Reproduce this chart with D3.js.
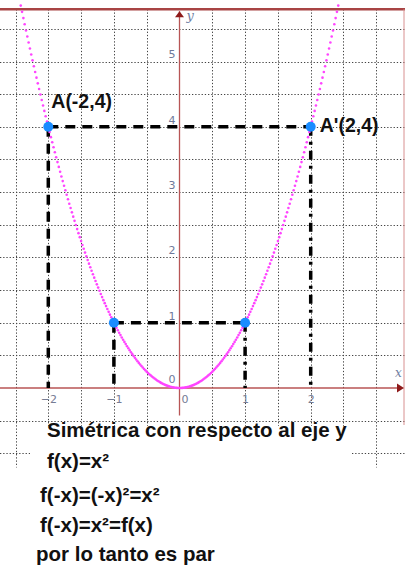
<!DOCTYPE html>
<html>
<head>
<meta charset="utf-8">
<script src="https://cdn.jsdelivr.net/npm/d3@7"></script>
<style>
  html, body { margin: 0; padding: 0; background: #fff; }
  svg { display: block; }
</style>
</head>
<body>
<script>
// f(x) = x^2 and its symmetric points about the y axis
const xTicks = [-2, -1, 0, 1, 2];
const yTicks = [0, 1, 2, 3, 4, 5];
const curveDomain = [-2.42, 2.42];
const curveStep = 0.02;
const points = [
  { name: "A(-2,4)", x: -2, y: 4 },
  { name: "A'(2,4)", x: 2, y: 4 },
  { name: "", x: -1, y: 1 },
  { name: "", x: 1, y: 1 }
];
// guide segments: [x1, y1, x2, y2, style]
const guides = [
  [-2, 4, 2, 4, "dash"],
  [-2, 4, -2, 0, "dash"],
  [2, 4, 2, 0, "dashdot"],
  [-1, 1, 1, 1, "dash"],
  [-1, 1, -1, 0, "dash"],
  [1, 1, 1, 0, "dashdot"]
];
const notes = [
  "Simétrica con respecto al eje y",
  "f(x)=x²",
  "f(-x)=(-x)²=x²",
  "f(-x)=x²=f(x)",
  "por lo tanto es par"
];

const W = 405, H = 571;
const f = v => v * v;

const x = d3.scaleLinear().domain([-2, 2]).range([48.3, 310.7]);
const y = d3.scaleLinear().domain([0, 4]).range([388, 126.8]);

const svg = d3.select("body").append("svg")
  .attr("width", W).attr("height", H);
svg.append("rect").attr("width", W).attr("height", H).attr("fill", "#fff");

const yTop = 5.8, yBottom = -1.22;
const gridXs = d3.range(-5, 8).map(k => k / 2).filter(v => v !== 0);
const gridYs = d3.range(-2, 12).map(k => k / 2).filter(v => v !== 0);

// dotted grid
const grid = svg.append("g").attr("stroke", "#444").attr("stroke-width", 1)
  .attr("stroke-dasharray", "1.3,1.9");
grid.selectAll("line.v").data(gridXs).join("line").attr("class", "v")
  .attr("x1", d => Math.round(x(d)) + 0.5).attr("x2", d => Math.round(x(d)) + 0.5)
  .attr("y1", y(yTop)).attr("y2", y(yBottom));
grid.selectAll("line.h").data(gridYs).join("line").attr("class", "h")
  .attr("y1", d => Math.round(y(d)) + 0.5).attr("y2", d => Math.round(y(d)) + 0.5)
  .attr("x1", 0).attr("x2", W);

// white panel behind the notes
svg.append("rect").attr("x", 30).attr("y", 426).attr("width", 322).attr("height", H - 426)
  .attr("fill", "#fff");
svg.append("rect").attr("x", 0).attr("y", y(yBottom)).attr("width", W).attr("height", H)
  .attr("fill", "#fff");

// frame lines
svg.append("line").attr("x1", 0).attr("x2", W).attr("y1", y(yTop)).attr("y2", y(yTop))
  .attr("stroke", "#a84444").attr("stroke-width", 2.4);
svg.append("line").attr("x1", 404).attr("x2", 404).attr("y1", y(yTop)).attr("y2", 425)
  .attr("stroke", "#d89090").attr("stroke-width", 1);

// axes lines
const axisColor = "#b85555";
svg.append("line").attr("x1", x(0)).attr("x2", x(0)).attr("y1", y(yTop) + 2).attr("y2", y(-0.42))
  .attr("stroke", axisColor).attr("stroke-width", 1.3);
svg.append("line").attr("x1", 0).attr("x2", 399).attr("y1", y(0)).attr("y2", y(0))
  .attr("stroke", axisColor).attr("stroke-width", 1.3);
// arrowheads
svg.append("path")
  .attr("d", `M${x(0)},${y(yTop) + 2} l-4.5,6 l9,0 z`)
  .attr("fill", "#8e1a1a");
svg.append("path")
  .attr("d", `M404,${y(0)} l-7,-4.5 l0,9 z`)
  .attr("fill", "#8e1a1a");

// axis labels
svg.append("text").attr("x", x(0) + 7).attr("y", 20).text("y")
  .attr("font-family", "DejaVu Serif, serif").attr("font-style", "italic")
  .attr("font-size", 13).attr("fill", "#6f7ea3");
svg.append("text").attr("x", 395).attr("y", 377).text("x")
  .attr("font-family", "DejaVu Serif, serif").attr("font-style", "italic")
  .attr("font-size", 12).attr("fill", "#6f7ea3");

// tick labels
const fmt = d => d < 0 ? "\u2212" + Math.abs(d) : String(d);
const xAxis = svg.append("g").attr("transform", `translate(0,${y(0)})`)
  .call(d3.axisBottom(x).tickValues(xTicks).tickSize(0).tickPadding(7).tickFormat(fmt));
xAxis.select(".domain").remove();
xAxis.selectAll("text").attr("font-family", "DejaVu Sans, sans-serif")
  .attr("font-size", 11).attr("fill", "#767c94")
  .attr("dx", d => d === 0 ? 5 : 0);

const yAxis = svg.append("g").attr("transform", `translate(${x(0)},0)`)
  .call(d3.axisLeft(y).tickValues(yTicks).tickSize(0).tickPadding(4).tickFormat(fmt));
yAxis.select(".domain").remove();
yAxis.selectAll("text").attr("font-family", "DejaVu Sans, sans-serif")
  .attr("font-size", 11).attr("fill", "#6f7a9a").attr("dy", d => d === 0 ? "-0.5em" : "-0.32em");

// guide lines
const dashes = { dash: "10,7", dashdot: "9,6,3,6" };
svg.append("g").selectAll("line").data(guides).join("line")
  .attr("x1", d => x(d[0])).attr("y1", d => y(d[1]))
  .attr("x2", d => x(d[2])).attr("y2", d => y(d[3]))
  .attr("stroke", "#000").attr("stroke-width", 3.5)
  .attr("stroke-dasharray", d => dashes[d[4]]);

// parabola drawn as dots sampled along x
const samples = d3.range(Math.round((curveDomain[1] - curveDomain[0]) / curveStep) + 1)
  .map(i => curveDomain[0] + i * curveStep);
svg.append("g").selectAll("circle").data(samples).join("circle")
  .attr("cx", d => x(d)).attr("cy", d => y(f(d))).attr("r", 1.3)
  .attr("fill", "#ff44ff");

// marked points
svg.append("g").selectAll("circle").data(points).join("circle")
  .attr("cx", d => x(d.x)).attr("cy", d => y(d.y)).attr("r", 5)
  .attr("fill", "#1a8cff");

const labelOffset = { "A(-2,4)": [3, -19], "A'(2,4)": [9, 5] };
svg.append("g").selectAll("text").data(points.filter(p => p.name)).join("text")
  .attr("x", d => x(d.x) + labelOffset[d.name][0])
  .attr("y", d => y(d.y) + labelOffset[d.name][1])
  .text(d => d.name)
  .attr("font-family", "Liberation Sans, Arial, sans-serif").attr("font-weight", "bold")
  .attr("font-size", 19.5).attr("fill", "#111");

// notes
const notePos = [[47, 437], [47, 468], [40, 502], [40, 532], [36, 561]];
svg.append("g").selectAll("text").data(notes).join("text")
  .attr("x", (d, i) => notePos[i][0]).attr("y", (d, i) => notePos[i][1])
  .text(d => d)
  .attr("font-family", "Liberation Sans, Arial, sans-serif").attr("font-weight", "bold")
  .attr("font-size", 20.5).attr("fill", "#111");
</script>
</body>
</html>
